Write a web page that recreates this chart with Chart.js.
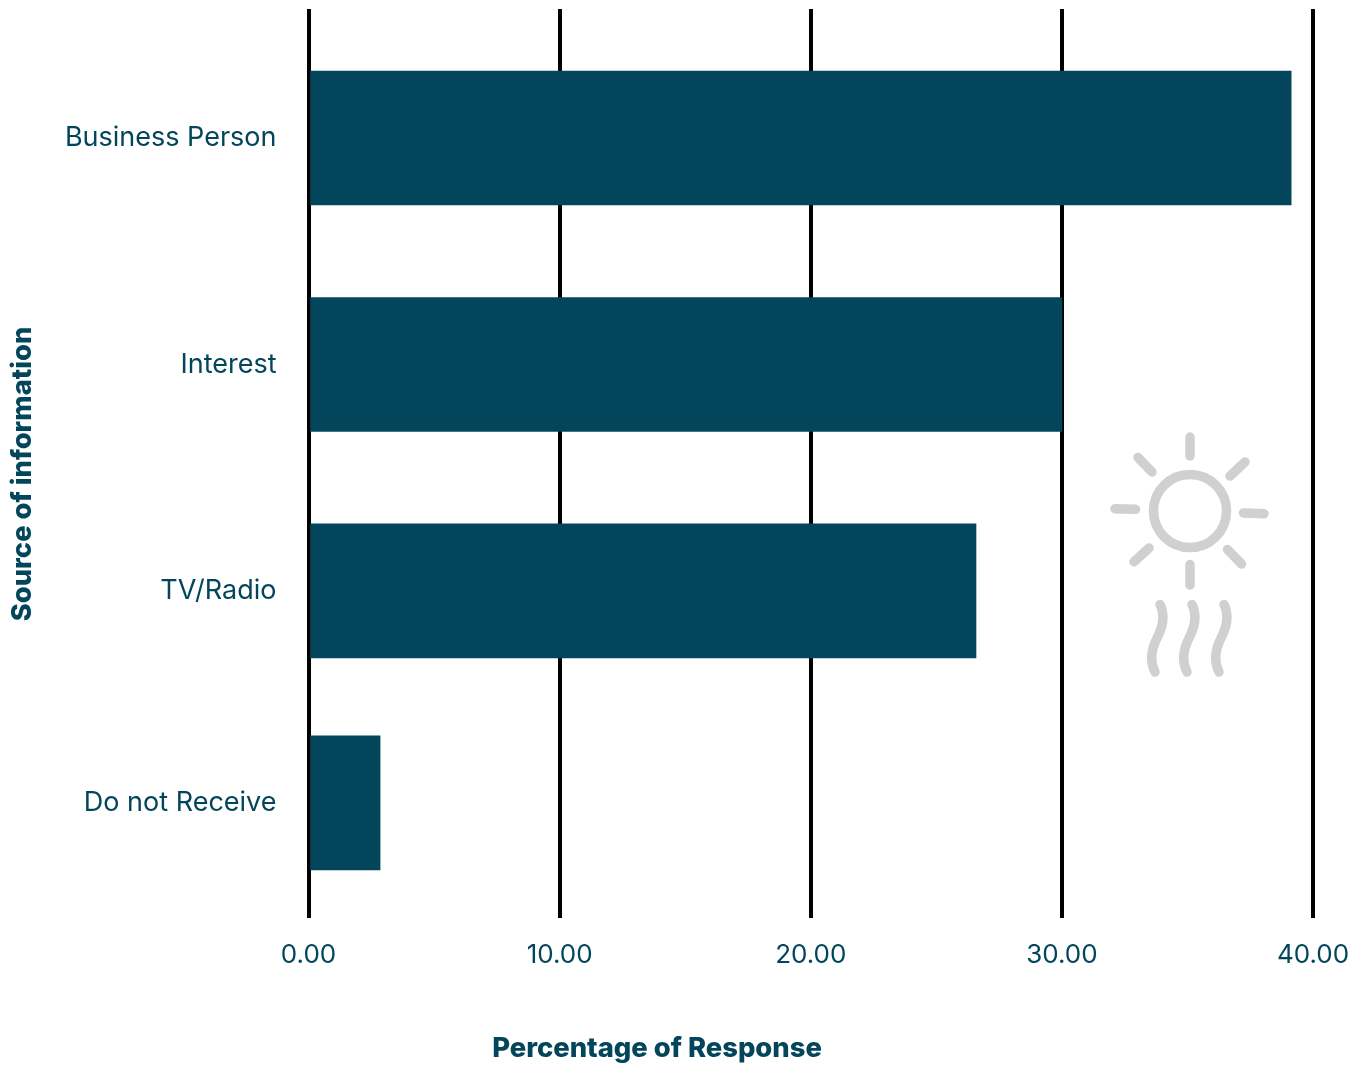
<!DOCTYPE html>
<html>
<head>
<meta charset="utf-8">
<title>Source of information</title>
<script src="https://cdn.jsdelivr.net/npm/chart.js@4/dist/chart.umd.min.js"></script>
<style>
    html, body { margin: 0; padding: 0; background: #fff; }
    #wrap { width: 1368px; height: 1066px; }
</style>
</head>
<body>
<div id="wrap"><canvas id="sourceChart" width="1368" height="1066"></canvas></div>
<script>
const categories = ['Business Person', 'Interest', 'TV/Radio', 'Do not Receive'];
const responses = [39.13, 30.0, 26.58, 2.85];
const xTicks = [0, 10, 20, 30, 40];

// the last row sits a little closer than the others, so the rows go on a linear axis
const rowSlots = [0, 1, 2, 2.936];

const teal = '#03465c';
const iconGrey = '#d0d0d0';
const labelFont = 'Inter, sans-serif';

// axis titles are off centre from the plot and the sun doodle is just decoration
const overlay = {
    id: 'overlay',
    afterDraw(chart) {
        const ctx = chart.ctx;
        ctx.save();
        ctx.fillStyle = teal;
        ctx.textAlign = 'center';
        ctx.textBaseline = 'middle';
        ctx.font = '800 27.4px ' + labelFont;
        ctx.fillText('Percentage of Response', 657, 1049);
        ctx.translate(23, 474);
        ctx.rotate(-Math.PI / 2);
        ctx.fillText('Source of information', 0, 0);
        ctx.restore();

        ctx.save();
        ctx.strokeStyle = iconGrey;
        ctx.lineWidth = 9.5;
        ctx.lineCap = 'round';
        ctx.beginPath();
        ctx.arc(1190, 511, 36.5, 0, Math.PI * 2);
        ctx.stroke();
        [
            [1190, 437, 1190, 456],
            [1138, 457.5, 1152, 472],
            [1245, 462, 1230, 476],
            [1115, 508.7, 1135.5, 509.3],
            [1243.5, 513, 1264, 513.7],
            [1149, 548, 1134, 561.7],
            [1227.5, 549.5, 1241.5, 564],
            [1190, 564.5, 1190, 585],
        ].forEach(([x1, y1, x2, y2]) => {
            ctx.beginPath();
            ctx.moveTo(x1, y1);
            ctx.lineTo(x2, y2);
            ctx.stroke();
        });
        [0, 32, 64].forEach((dx) => {
            ctx.beginPath();
            ctx.moveTo(1160 + dx, 604.5);
            ctx.bezierCurveTo(1165 + dx, 615, 1164 + dx, 625, 1157 + dx, 638);
            ctx.bezierCurveTo(1152 + dx, 648, 1149 + dx, 660, 1155 + dx, 672);
            ctx.stroke();
        });
        ctx.restore();
    },
};

new Chart(document.getElementById('sourceChart'), {
    type: 'bar',
    data: {
        datasets: [{
            data: responses.map((v, i) => ({ x: v, y: rowSlots[i] })),
            backgroundColor: teal,
            barThickness: 134,
        }],
    },
    options: {
        indexAxis: 'y',
        responsive: false,
        animation: false,
        layout: { padding: { top: 9, right: 55, left: 0, bottom: 0 } },
        plugins: { legend: { display: false }, tooltip: { enabled: false } },
        scales: {
            x: {
                type: 'linear',
                min: 0,
                max: 40,
                afterFit(scale) {
                    scale.height = 148;
                    scale.paddingLeft = 0;
                    scale.paddingRight = 0;
                },
                afterBuildTicks(scale) { scale.ticks = xTicks.map((value) => ({ value })); },
                grid: { color: '#000', lineWidth: 4, tickLength: 0 },
                border: { display: false },
                ticks: {
                    color: teal,
                    padding: 22,
                    maxRotation: 0,
                    font: { family: labelFont, size: 26 },
                    callback: (v) => Number(v).toFixed(2),
                },
            },
            y: {
                type: 'linear',
                reverse: true,
                offset: false,
                min: -0.5695,
                max: 3.444,
                afterFit(scale) {
                    scale.width = 308.5;
                    scale.paddingTop = 0;
                    scale.paddingBottom = 0;
                },
                afterBuildTicks(scale) { scale.ticks = rowSlots.map((value) => ({ value })); },
                grid: { display: false, offset: false },
                border: { display: false },
                ticks: {
                    color: teal,
                    padding: 24,
                    font: { family: labelFont, size: 27 },
                    callback: (v) => categories[rowSlots.indexOf(v)],
                },
            },
        },
    },
    plugins: [overlay],
});
</script>
</body>
</html>
